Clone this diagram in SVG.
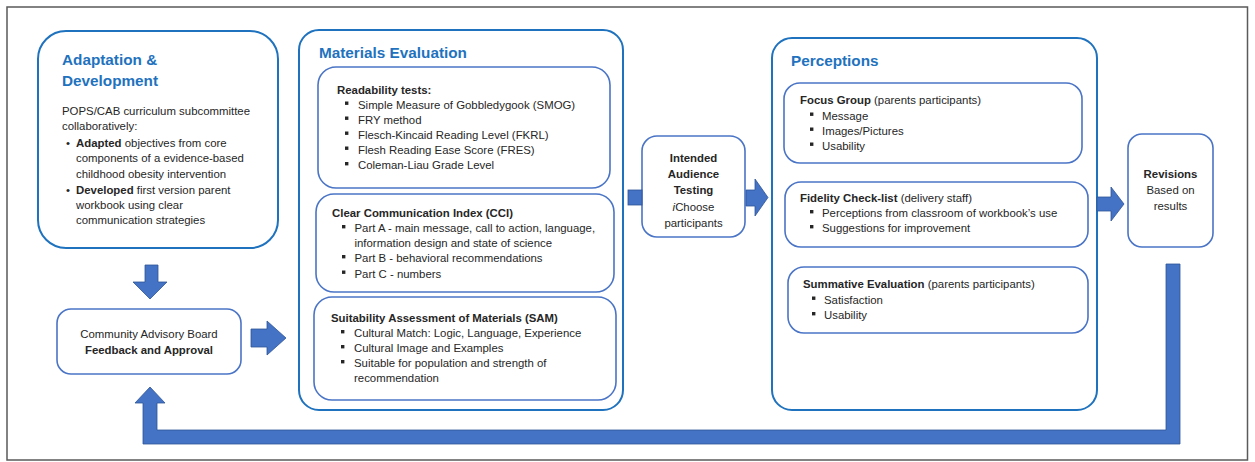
<svg xmlns="http://www.w3.org/2000/svg" width="1255" height="462" viewBox="0 0 1255 462">
<defs>
<style>
.frame{fill:#fff;stroke:#5a5a5a;stroke-width:1.5}
.outer{fill:#fff;stroke:#1F72BE;stroke-width:2}
.inner{fill:#fff;stroke:#4A74C6;stroke-width:1.6}
.arrow{fill:#4472C4;stroke:#2F5597;stroke-width:0.8}
.t{font-family:"Liberation Sans",Arial,sans-serif;font-size:11.4px;fill:#262626}
.b{font-weight:bold}
.i{font-style:italic}
.h{font-family:"Liberation Sans",Arial,sans-serif;font-size:15.3px;font-weight:bold;fill:#1F72BE}
.c{text-anchor:middle}
.sq{fill:#262626}
</style>
</defs>
<rect x="0" y="0" width="1255" height="462" fill="#fff"/>
<rect class="frame" x="7" y="7" width="1240.5" height="453"/>

<g id="adaptation">
<rect class="outer" x="38" y="31" width="240" height="217" rx="28"/>
<text class="h" x="62" y="65">Adaptation &amp;</text>
<text class="h" x="62" y="86">Development</text>
<text class="t" x="62" y="115">POPS/CAB curriculum subcommittee</text>
<text class="t" x="62" y="130">collaboratively:</text>
<text class="t" x="66" y="147">•</text>
<text class="t" x="76" y="147"><tspan class="b">Adapted</tspan> objectives from core</text>
<text class="t" x="76" y="162">components of a evidence-based</text>
<text class="t" x="76" y="177.5">childhood obesity intervention</text>
<text class="t" x="66" y="194">•</text>
<text class="t" x="76" y="194"><tspan class="b">Developed</tspan> first version parent</text>
<text class="t" x="76" y="209">workbook using clear</text>
<text class="t" x="76" y="224">communication strategies</text>
</g>

<g id="cab">
<rect class="inner" x="57" y="309" width="184" height="65" rx="14"/>
<text class="t c" x="149" y="337.5">Community Advisory Board</text>
<text class="t c b" x="149" y="354">Feedback and Approval</text>
</g>

<g id="materials">
<rect class="outer" x="299" y="30" width="324" height="380" rx="20"/>
<text class="h" x="319" y="58">Materials Evaluation</text>
</g>

<g id="readability">
<rect class="inner" x="318" y="67" width="292" height="121" rx="18"/>
<text class="t b" x="337" y="93.5">Readability tests:</text>
<rect class="sq" x="345" y="101.5" width="3.4" height="3.4"/>
<text class="t" x="358" y="108.5">Simple Measure of Gobbledygook (SMOG)</text>
<rect class="sq" x="345" y="116.5" width="3.4" height="3.4"/>
<text class="t" x="358" y="123.5">FRY method</text>
<rect class="sq" x="345" y="131.5" width="3.4" height="3.4"/>
<text class="t" x="358" y="138.5">Flesch-Kincaid Reading Level (FKRL)</text>
<rect class="sq" x="345" y="146.5" width="3.4" height="3.4"/>
<text class="t" x="358" y="153.5">Flesh Reading Ease Score (FRES)</text>
<rect class="sq" x="345" y="162" width="3.4" height="3.4"/>
<text class="t" x="358" y="169">Coleman-Liau Grade Level</text>
</g>

<g id="cci">
<rect class="inner" x="316" y="194" width="298" height="98" rx="18"/>
<text class="t b" x="332" y="217">Clear Communication Index (CCI)</text>
<rect class="sq" x="342" y="225" width="3.4" height="3.4"/>
<text class="t" x="354.5" y="232">Part A - main message, call to action, language,</text>
<text class="t" x="354.5" y="247">information design and state of science</text>
<rect class="sq" x="342" y="255" width="3.4" height="3.4"/>
<text class="t" x="354.5" y="262">Part B - behavioral recommendations</text>
<rect class="sq" x="342" y="270.5" width="3.4" height="3.4"/>
<text class="t" x="354.5" y="277.5">Part C - numbers</text>
</g>

<g id="sam">
<rect class="inner" x="314" y="297" width="302" height="103" rx="18"/>
<text class="t b" x="331" y="322">Suitability Assessment of Materials (SAM)</text>
<rect class="sq" x="341" y="330" width="3.4" height="3.4"/>
<text class="t" x="354" y="337">Cultural Match: Logic, Language, Experience</text>
<rect class="sq" x="341" y="345" width="3.4" height="3.4"/>
<text class="t" x="354" y="352">Cultural Image and Examples</text>
<rect class="sq" x="341" y="360" width="3.4" height="3.4"/>
<text class="t" x="354" y="367">Suitable for population and strength of</text>
<text class="t" x="354" y="382">recommendation</text>
</g>

<g id="intended">
<rect class="inner" x="642" y="136" width="103" height="101" rx="15"/>
<text class="t c b" x="693.5" y="162">Intended</text>
<text class="t c b" x="693.5" y="178">Audience</text>
<text class="t c b" x="693.5" y="194">Testing</text>
<text class="t c" x="693.5" y="211"><tspan class="i">i</tspan>Choose</text>
<text class="t c" x="693.5" y="227">participants</text>
</g>

<g id="perceptions">
<rect class="outer" x="772" y="38" width="325" height="372" rx="20"/>
<text class="h" x="791" y="66">Perceptions</text>
</g>

<g id="focus">
<rect class="inner" x="784" y="83" width="298" height="80" rx="16"/>
<text class="t" x="800" y="104"><tspan class="b">Focus Group</tspan> (parents participants)</text>
<rect class="sq" x="810" y="112.5" width="3.4" height="3.4"/>
<text class="t" x="822" y="119.5">Message</text>
<rect class="sq" x="810" y="127.5" width="3.4" height="3.4"/>
<text class="t" x="822" y="134.5">Images/Pictures</text>
<rect class="sq" x="810" y="142.5" width="3.4" height="3.4"/>
<text class="t" x="822" y="149.5">Usability</text>
</g>

<g id="fidelity">
<rect class="inner" x="785" y="182" width="303" height="65" rx="16"/>
<text class="t" x="800" y="202"><tspan class="b">Fidelity Check-list</tspan> (delivery staff)</text>
<rect class="sq" x="810" y="210" width="3.4" height="3.4"/>
<text class="t" x="822" y="217">Perceptions from classroom of workbook’s use</text>
<rect class="sq" x="810" y="225" width="3.4" height="3.4"/>
<text class="t" x="822" y="232">Suggestions for improvement</text>
</g>

<g id="summative">
<rect class="inner" x="788" y="267" width="300" height="66" rx="16"/>
<text class="t" x="803" y="288"><tspan class="b">Summative Evaluation</tspan> (parents participants)</text>
<rect class="sq" x="812" y="296.5" width="3.4" height="3.4"/>
<text class="t" x="824" y="303.5">Satisfaction</text>
<rect class="sq" x="812" y="312" width="3.4" height="3.4"/>
<text class="t" x="824" y="319">Usability</text>
</g>

<g id="revisions">
<rect class="inner" x="1128" y="134" width="85" height="113" rx="14"/>
<text class="t c b" x="1170.5" y="177.5">Revisions</text>
<text class="t c" x="1170.5" y="194">Based on</text>
<text class="t c" x="1170.5" y="210">results</text>
</g>

<g id="connectors">
<path class="arrow" d="M145,265 H158 V282 H167 L150,299 L133,282 H145 Z"/>
<path class="arrow" d="M251,329 H267 V321 L286,338 L267,355 V347 H251 Z"/>
<rect class="arrow" x="628" y="190" width="14" height="15"/>
<path class="arrow" d="M746,190 H755 V179 L768,197.5 L755,216 V206 H746 Z"/>
<path class="arrow" d="M1097,197 H1111 V187 L1124,204 L1111,221 V211 H1097 Z"/>
<path class="arrow" d="M1166,264 H1180 V444 H143 V403 H135 L150,387 L165,403 H157 V430 H1166 Z"/>
</g>
</svg>
